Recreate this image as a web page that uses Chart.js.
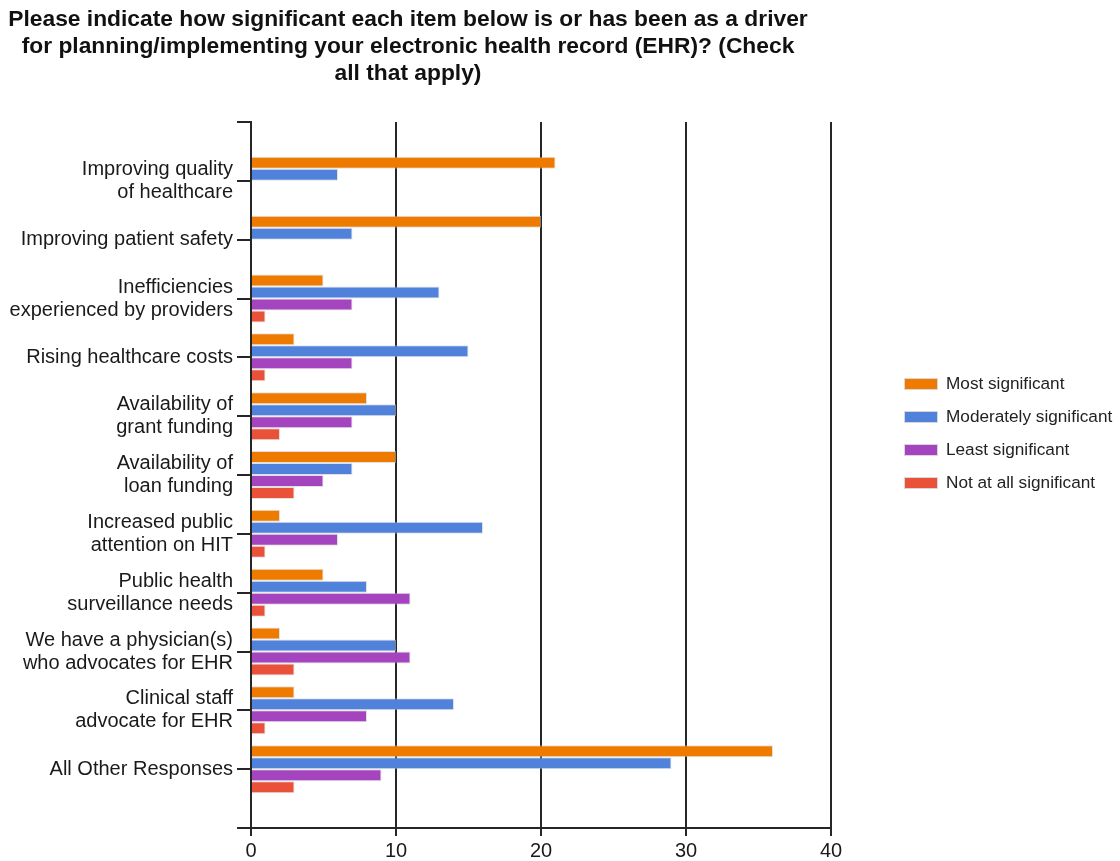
<!DOCTYPE html>
<html>
<head>
<meta charset="utf-8">
<title>EHR drivers</title>
<script src="https://cdn.jsdelivr.net/npm/chart.js@4.4.1/dist/chart.umd.min.js"></script>
<style>
  html, body { margin: 0; padding: 0; background: #fff; }
  #wrap { position: relative; width: 1120px; height: 861px; overflow: hidden; }
  #chart { position: absolute; left: 0; top: 0; }
  #heading {
    position: absolute; left: 0; top: 5px; width: 816px;
    text-align: center; font: bold 22.8px "Liberation Sans", Arial, sans-serif;
    line-height: 27px; color: #111;
  }
  #key { position: absolute; left: 904px; top: 367px; margin: 0; padding: 0; list-style: none; }
  #key li { height: 33px; display: flex; align-items: center; font: 17.2px "Liberation Sans", Arial, sans-serif; color: #222; white-space: nowrap; }
  #key .sw { width: 32px; height: 10px; border: 1px solid #d8d8d8; margin-right: 8px; }
</style>
</head>
<body>
<div id="wrap">
  <canvas id="chart" width="1120" height="861"></canvas>
  <div id="heading">Please indicate how significant each item below is or has been as a driver<br>for planning/implementing your electronic health record (EHR)? (Check<br>all that apply)</div>
  <ul id="key"></ul>
</div>
<script>
// Survey items (each entry is one label, split into its display lines)
const categories = [
  ['Improving quality', 'of healthcare'],
  'Improving patient safety',
  ['Inefficiencies', 'experienced by providers'],
  'Rising healthcare costs',
  ['Availability of', 'grant funding'],
  ['Availability of', 'loan funding'],
  ['Increased public', 'attention on HIT'],
  ['Public health', 'surveillance needs'],
  ['We have a physician(s)', 'who advocates for EHR'],
  ['Clinical staff', 'advocate for EHR'],
  'All Other Responses'
];

// Response counts per item
const mostSignificant       = [21, 20, 5, 3, 8, 10, 2, 5, 2, 3, 36];
const moderatelySignificant = [6, 7, 13, 15, 10, 7, 16, 8, 10, 14, 29];
const leastSignificant      = [0, 0, 7, 7, 7, 5, 6, 11, 11, 8, 9];
const notAtAllSignificant   = [0, 0, 1, 1, 2, 3, 1, 1, 3, 1, 3];

const seriesNames = ['Most significant', 'Moderately significant', 'Least significant', 'Not at all significant'];
const seriesColors = ['#ee7b00', '#5082dc', '#a444be', '#ea5139'];

// Count axis ticks
const countTicks = [0, 10, 20, 30, 40];

// The item axis keeps an empty slot above and below the items
const axisLabels = ['', ...categories, ''];
const pad = arr => [null, ...arr, null];

const seriesValues = [mostSignificant, moderatelySignificant, leastSignificant, notAtAllSignificant];

const ink = '#262626';
const font = { family: '"Liberation Sans", Arial, sans-serif' };

const chart = new Chart(document.getElementById('chart'), {
  type: 'bar',
  data: {
    labels: axisLabels,
    datasets: seriesValues.map((vals, i) => ({
      label: seriesNames[i],
      data: pad(vals),
      backgroundColor: seriesColors[i],
      borderColor: 'rgba(200,200,200,0.55)',
      borderWidth: 1,
      categoryPercentage: 0.816,
      barPercentage: 1
    }))
  },
  options: {
    indexAxis: 'y',
    responsive: false,
    animation: false,
    layout: { padding: { top: 122, right: 289, bottom: 0, left: 0 } },
    plugins: {
      legend: { display: false },
      title: { display: false },
      tooltip: { enabled: false }
    },
    scales: {
      x: {
        type: 'linear',
        min: countTicks[0],
        max: countTicks[countTicks.length - 1],
        afterBuildTicks: s => { s.ticks = countTicks.map(v => ({ value: v })); },
        afterFit: s => { s.height = 33; },
        grid: { color: ink, lineWidth: 2, tickLength: 8, drawTicks: true },
        border: { display: true, color: ink, width: 2 },
        ticks: { color: '#1a1a1a', padding: 3, font: { ...font, size: 20 } }
      },
      y: {
        type: 'category',
        offset: false,
        afterFit: s => { s.width = 251; },
        grid: { offset: false, drawOnChartArea: false, drawTicks: true, tickLength: 14, color: ink, lineWidth: 2 },
        border: { display: true, color: ink, width: 2 },
        ticks: { autoSkip: false, color: '#1a1a1a', padding: 4, font: { ...font, size: 20, lineHeight: 1.15 } }
      }
    }
  }
});

// Series key built from the chart's datasets
const key = document.getElementById('key');
chart.data.datasets.forEach(ds => {
  const li = document.createElement('li');
  const sw = document.createElement('span');
  sw.className = 'sw';
  sw.style.background = ds.backgroundColor;
  li.appendChild(sw);
  li.appendChild(document.createTextNode(ds.label));
  key.appendChild(li);
});
</script>
</body>
</html>
